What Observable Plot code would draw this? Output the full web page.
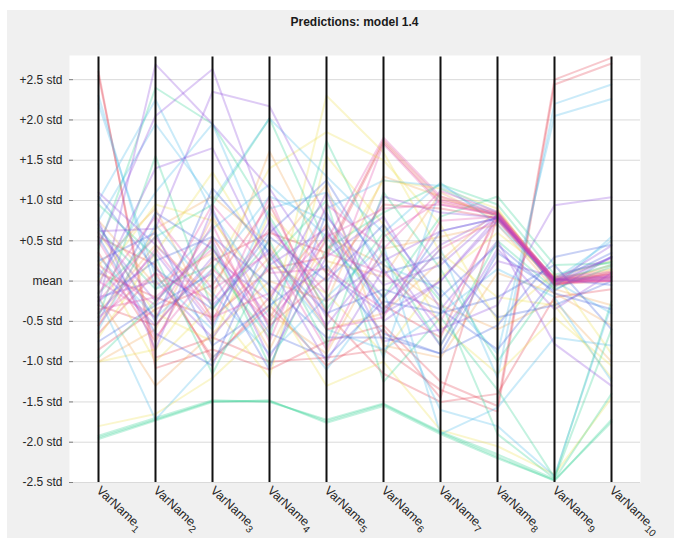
<!DOCTYPE html>
<html><head><meta charset="utf-8">
<script src="https://cdn.jsdelivr.net/npm/d3@7"></script>
<script src="https://cdn.jsdelivr.net/npm/@observablehq/plot@0.6"></script>
<style>
html,body{margin:0;padding:0;background:#fff;width:674px;height:542px;overflow:hidden}
#fig{position:absolute;left:7px;top:10px;width:667px;height:528px;background:#f0f0f0;font-family:"Liberation Sans",Arial,sans-serif}
#title{position:absolute;left:62px;width:571px;top:5px;text-align:center;font-weight:bold;font-size:12px;line-height:14px;color:#1a1a1a}
#chart{position:absolute;left:0;top:30px}
</style></head><body>
<div id="fig"><div id="title">Predictions: model 1.4</div><div id="chart"></div></div>
<script>
const varNames = ["VarName1","VarName2","VarName3","VarName4","VarName5","VarName6","VarName7","VarName8","VarName9","VarName10"];
const xTickLabels = ["VarName_1","VarName_2","VarName_3","VarName_4","VarName_5","VarName_6","VarName_7","VarName_8","VarName_9","VarName_10"];
const yTicks = [-2.5,-2,-1.5,-1,-0.5,0,0.5,1,1.5,2,2.5];
const yTickLabels = ["-2.5 std","-2.0 std","-1.5 std","-1.0 std","-0.5 std","mean","+0.5 std","+1.0 std","+1.5 std","+2.0 std","+2.5 std"];

const redLines = [
  [2.60,-1.08,-0.85,-1.10,-0.75,-0.55,-1.25,-1.55,2.50,2.77],
  [2.55,-0.95,-0.70,-1.00,-0.95,-0.85,-1.35,-1.62,2.44,2.70],
  [-0.30,-0.55,0.25,0.60,0.35,1.75,1.02,0.84,-0.02,0.03],
  [0.10,-0.20,-0.45,0.15,0.30,1.72,0.98,0.82,-0.04,0.00],
  [-0.65,0.10,-0.95,-0.30,-1.05,-0.60,-1.45,0.80,0.00,0.05],
  [0.35,-0.75,0.55,-0.55,0.05,0.95,0.90,0.78,-0.06,0.10],
  [-0.85,-0.35,-0.05,0.95,-0.40,-1.15,-1.50,-1.40,-0.20,-0.10],
  [0.55,0.20,-1.00,-0.20,0.70,-0.30,-0.70,0.86,0.02,0.08]
];
const orangeLines = [
  [-0.40,0.45,-0.20,1.61,0.25,0.05,1.10,0.75,-0.05,0.12],
  [-1.00,-0.60,0.80,-0.40,-0.90,0.40,0.55,0.70,-0.10,-0.30],
  [0.20,0.90,-0.50,0.30,1.20,-0.80,-0.95,0.10,-0.15,-0.55],
  [-0.20,-1.30,-0.65,0.00,-0.25,1.30,1.05,0.80,0.04,0.15],
  [0.75,-0.05,0.35,-0.85,0.55,0.20,-0.30,-0.60,-0.25,-1.00],
  [-0.55,0.65,1.05,0.45,-0.60,-0.40,0.25,0.88,-0.02,0.20]
];
const yellowLines = [
  [-1.80,-1.65,-1.20,-0.55,2.30,1.60,0.35,-0.20,-0.30,-1.20],
  [-1.00,-0.85,0.10,1.40,1.85,1.50,0.70,-0.50,0.10,-0.90],
  [0.00,0.95,0.75,-0.15,-1.30,-1.00,-1.85,-2.05,-2.40,-1.45],
  [0.60,-0.40,-0.75,0.85,0.10,1.25,1.15,0.90,-0.03,0.14],
  [-0.70,0.35,1.35,0.20,-0.15,-0.90,0.05,0.60,0.05,0.25],
  [0.25,-1.00,-0.30,-1.20,1.55,0.70,-0.55,-1.15,-0.45,-1.05]
];
const greenLines = [
  [-1.94,-1.72,-1.49,-1.49,-1.74,-1.53,-1.88,-2.18,-2.48,-1.72],
  [-1.96,-1.73,-1.50,-1.48,-1.76,-1.55,-1.90,-2.20,-2.47,-1.75],
  [-1.92,-1.70,-1.48,-1.50,-1.72,-1.52,-1.87,-2.15,-2.46,-1.40],
  [0.40,2.40,1.95,0.80,-0.35,0.60,-0.25,-1.90,-2.45,-0.60],
  [-0.15,0.55,0.95,2.02,0.45,-0.20,0.80,1.05,0.20,0.22],
  [0.65,-0.10,0.20,-0.70,1.74,0.30,-0.80,0.50,-0.10,0.18],
  [-0.45,1.55,-0.35,0.50,-0.80,1.10,0.15,-1.00,0.00,0.20],
  [0.95,0.30,-1.15,0.25,1.00,-1.25,-0.45,-1.35,-2.44,-0.25],
  [-0.95,-0.25,0.45,-1.05,0.40,0.85,1.20,0.95,0.08,0.24]
];
const cyanLines = [
  [2.30,-0.10,0.65,1.20,0.55,-0.35,0.40,-1.20,2.20,2.44],
  [2.20,0.05,-0.60,0.90,1.10,0.20,-0.10,-0.90,2.05,2.26],
  [-0.20,-1.72,-0.95,-0.35,0.90,1.25,1.18,0.85,-0.08,0.55],
  [0.75,1.95,1.00,2.02,1.30,0.60,1.22,0.70,0.00,-0.40],
  [0.05,1.10,1.95,0.30,-0.60,-0.85,-0.40,0.15,-0.20,-1.24],
  [-0.60,0.70,-0.15,-0.90,-0.20,0.45,-1.90,-1.57,-0.70,-0.80],
  [0.30,-0.45,0.15,1.05,0.75,-0.95,1.15,0.80,0.02,0.50],
  [1.00,2.25,0.85,-0.20,-1.10,-0.15,-1.60,-1.80,-2.42,-0.30]
];
const blueLines = [
  [0.70,-0.50,1.15,0.35,-0.40,-0.10,-0.35,-0.85,0.03,-0.05],
  [0.25,0.60,-0.80,-0.30,0.20,-0.65,-0.90,0.35,-0.12,0.30],
  [-0.50,0.85,0.40,-0.65,-0.95,-0.25,-0.40,-0.20,0.20,-0.60],
  [1.05,0.15,-0.35,0.60,1.25,0.10,0.30,-0.45,-0.30,0.00],
  [-0.75,-0.30,0.10,-1.10,0.85,-0.40,0.62,0.78,0.00,0.35],
  [0.55,-0.65,-1.05,0.55,0.00,0.70,-0.20,0.45,-0.15,-0.35],
  [-0.25,0.25,0.55,-0.05,-0.70,-0.70,-0.90,-0.55,0.30,0.45]
];
const purpleLines = [
  [-0.30,2.69,1.95,1.15,0.10,-0.40,0.00,0.80,0.00,0.02],
  [0.45,2.05,2.63,0.70,-0.25,0.25,0.62,0.78,0.01,0.04],
  [-0.05,1.40,1.65,0.20,0.65,-0.75,-0.60,-0.30,0.94,1.04],
  [0.62,0.65,2.35,2.17,0.80,-0.05,0.20,0.82,-0.05,0.30],
  [0.60,-0.25,0.50,-0.95,0.30,0.80,-0.35,0.50,-0.78,-1.30],
  [-0.40,0.35,-0.55,0.75,-0.45,1.05,0.85,0.79,0.00,0.44],
  [0.15,-0.55,0.30,-0.25,1.10,-0.50,0.00,0.75,-0.02,0.30],
  [1.10,0.45,-0.30,0.40,-0.55,0.35,-0.65,0.25,0.05,0.28],
  [0.75,-0.85,0.90,-0.60,0.60,-0.20,0.45,0.81,0.02,0.06],
  [-0.20,0.00,-0.70,0.20,-1.00,0.15,-0.80,0.40,-0.35,0.10]
];
const magentaLines = [
  [-0.35,-0.20,0.40,-0.45,0.50,1.78,1.05,0.85,-0.03,0.02],
  [-0.45,0.10,-0.25,0.65,-0.15,1.70,0.95,0.83,0.00,0.06],
  [0.00,-0.45,0.70,-0.75,0.95,0.40,1.12,0.86,0.02,0.08],
  [-0.55,0.40,-0.50,1.05,-0.60,-0.45,0.75,0.80,-0.02,0.00],
  [0.50,-0.70,0.15,-0.50,0.35,0.10,-0.50,0.78,0.04,0.12],
  [-0.15,0.80,-0.10,0.35,-0.85,0.55,1.00,0.84,-0.04,0.05],
  [0.20,-0.30,0.95,0.10,0.15,-0.35,0.40,0.76,0.01,0.00],
  [-0.25,0.55,-0.45,-0.15,0.55,0.90,0.95,0.82,0.03,0.10]
];
const groupNames = ["Group A","Group B","Group C","Group D","Group E","Group F","Group G","Group H"];
const groupColors = ["#e23a4a","#f0a050","#ece04c","#2cd08e","#44b8ea","#3a58dc","#8a46dc","#e448a8"];
const groupLines = [redLines, orangeLines, yellowLines, greenLines, cyanLines, blueLines, purpleLines, magentaLines];

const rows = [];
groupLines.forEach((lines, gi) => lines.forEach((vals, li) => vals.forEach((v, j) =>
  rows.push({id: gi + "-" + li, group: groupNames[gi], variable: varNames[j], value: v}))));

const yLabel = new Map(yTicks.map((t, i) => [t, yTickLabels[i]]));
const xLabel = new Map(varNames.map((v, i) => [v, xTickLabels[i]]));

const chart = Plot.plot({
  width: 667, height: 498,
  marginLeft: 62, marginRight: 34, marginTop: 15, marginBottom: 56,
  style: {background: "transparent", fontFamily: "'Liberation Sans', Arial, sans-serif", fontSize: "12px", color: "#262626", overflow: "visible"},
  x: {type: "point", domain: varNames, padding: 0.5, label: null},
  y: {domain: [-2.5, 2.8], label: null},
  color: {type: "ordinal", domain: groupNames, range: groupColors},
  marks: [
    Plot.frame({fill: "white", stroke: null}),
    Plot.gridY(yTicks, {stroke: "#dadada", strokeOpacity: 1}),
    Plot.line(rows, {x: "variable", y: "value", z: "id", stroke: "group", strokeOpacity: 0.28, strokeWidth: 2}),
    Plot.ruleX(varNames, {y1: -2.5, y2: 2.78, stroke: "#111", strokeWidth: 2}),
    Plot.axisY(yTicks, {tickFormat: d => yLabel.get(d), tickSize: -4, tickPadding: 11, line: true, stroke: "#808080", color: "#262626", fontSize: 12, label: null}),
    Plot.axisX({tickFormat: d => xLabel.get(d), tickSize: 0, tickPadding: 6, tickRotate: 43, fontSize: 12.5, color: "#262626", label: null, ariaLabel: "x-axis"})
  ]
});
// render "Name_n" tick labels as TeX-style subscripts
chart.querySelectorAll('g[aria-label="x-axis tick label"] text').forEach(t => {
  const m = t.textContent.match(/^(.*)_(\d+)$/);
  if (!m) return;
  t.textContent = "";
  const a = document.createElementNS("http://www.w3.org/2000/svg", "tspan");
  a.textContent = m[1];
  const b = document.createElementNS("http://www.w3.org/2000/svg", "tspan");
  b.textContent = m[2];
  b.setAttribute("dy", "4");
  b.setAttribute("font-size", "10");
  t.append(a, b);
});
document.getElementById("chart").appendChild(chart);
</script>
</body></html>
